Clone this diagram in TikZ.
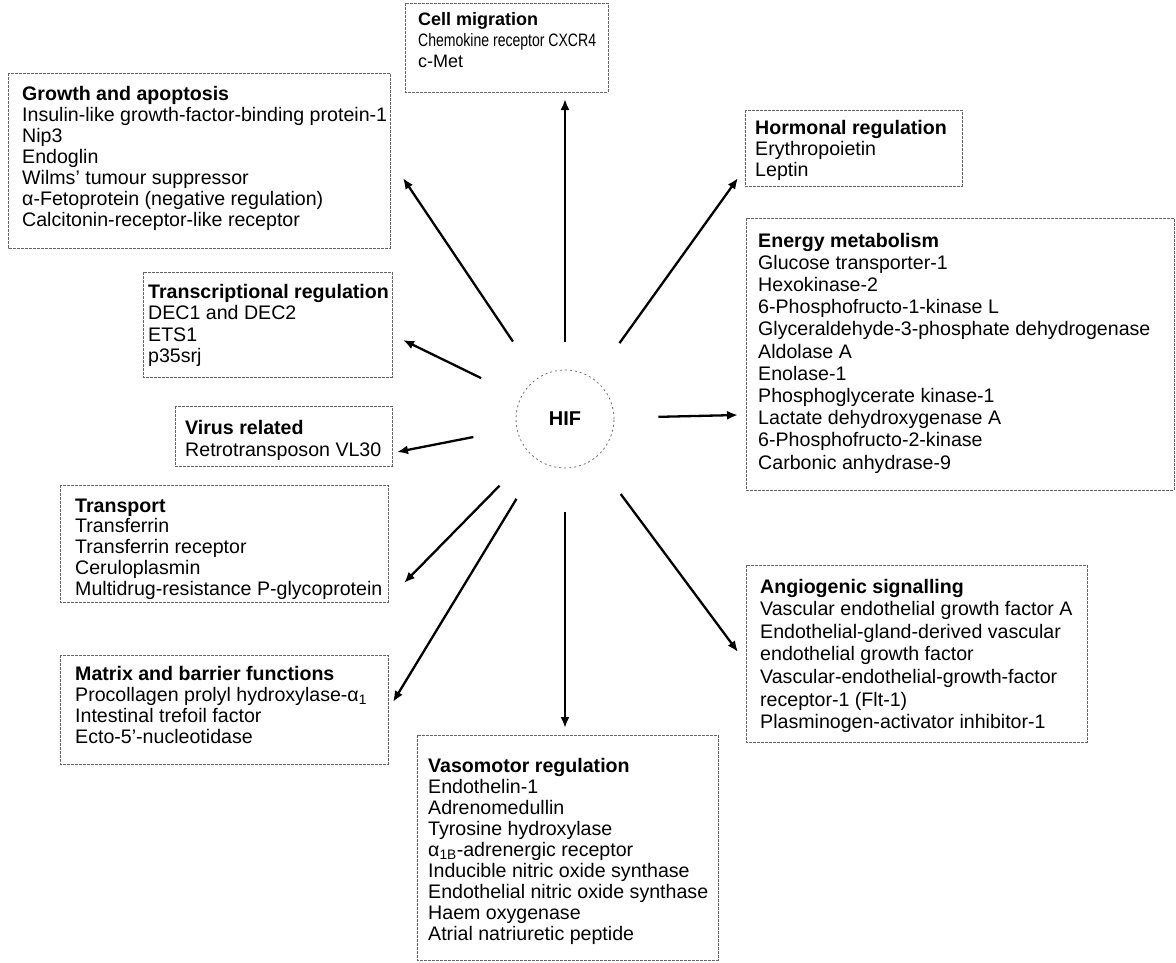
\documentclass[tikz,border=0pt]{standalone}
\usepackage{fontspec}
\setmainfont{Liberation Sans}
\usepackage{graphicx}
\usetikzlibrary{arrows.meta}
\tikzset{
  boxline/.style={draw=black!60, line width=0.7pt, dash pattern=on 3pt off 1pt},
  gtext/.style={anchor=base west, inner sep=0pt},
  arr/.style={-{Latex[length=11pt,width=9pt]}, line width=2.3pt, shorten <=44pt},
}
\newcommand{\fs}[1]{\fontsize{19.6}{#1}\selectfont}
\newcommand{\glines}[1]{\begin{tabular}[t]{@{}l@{}}#1\end{tabular}}
\begin{document}
\begin{tikzpicture}[x=1pt,y=-1pt]
\useasboundingbox[fill=white] (0,0) rectangle (1176,962);

% boxes
\draw[boxline] (8,73) rectangle (390,248);
\draw[boxline] (405,3) rectangle (608,92);
\draw[boxline] (745,110) rectangle (962,186);
\draw[boxline] (143,272) rectangle (392,377);
\draw[boxline] (175,406) rectangle (392,466);
\draw[boxline] (60,485) rectangle (388,602);
\draw[boxline] (60,655) rectangle (388,764);
\draw[boxline] (746,218) rectangle (1174,490);
\draw[boxline] (746,565) rectangle (1087,742);
\draw[boxline] (417,735) rectangle (718,960);

\node[gtext, font=\fs{21}] (growth) at (22,100)
 {\glines{\textbf{Growth and apoptosis}\\Insulin-like growth-factor-binding protein-1\\Nip3\\Endoglin\\Wilms' tumour suppressor\\α-Fetoprotein (negative regulation)\\Calcitonin-receptor-like receptor}};

\node[gtext, font=\fontsize{18}{21}\selectfont] (cellmig) at (418,25)
 {\glines{\textbf{Cell migration}\\\scalebox{0.78}[1]{Chemokine receptor CXCR4}\\c-Met}};

\node[gtext, font=\fs{21}] (hormonal) at (755,134)
 {\glines{\textbf{Hormonal regulation}\\Erythropoietin\\Leptin}};

\node[gtext, font=\fs{21.5}] (transcr) at (148,298)
 {\glines{\textbf{Transcriptional regulation}\\DEC1 and DEC2\\ETS1\\p35srj}};

\node[gtext, font=\fs{22}] (virus) at (185,434)
 {\glines{\textbf{Virus related}\\Retrotransposon VL30}};

\node[gtext, font=\fs{20.8}] (transport) at (75,512)
 {\glines{\textbf{Transport}\\Transferrin\\Transferrin receptor\\Ceruloplasmin\\Multidrug-resistance P-glycoprotein}};

\node[gtext, font=\fs{21.3}] (matrix) at (75,680)
 {\glines{\textbf{Matrix and barrier functions}\\Procollagen prolyl hydroxylase-α\textsubscript{1}\\Intestinal trefoil factor\\Ecto-5'-nucleotidase}};

\node[gtext, font=\fs{22.2}] (energy) at (758,247)
 {\glines{\textbf{Energy metabolism}\\Glucose transporter-1\\Hexokinase-2\\6-Phosphofructo-1-kinase L\\Glyceraldehyde-3-phosphate dehydrogenase\\Aldolase A\\Enolase-1\\Phosphoglycerate kinase-1\\Lactate dehydroxygenase A\\6-Phosphofructo-2-kinase\\Carbonic anhydrase-9}};

\node[gtext, font=\fs{22.6}] (angio) at (760,593)
 {\glines{\textbf{Angiogenic signalling}\\Vascular endothelial growth factor A\\Endothelial-gland-derived vascular\\endothelial growth factor\\Vascular-endothelial-growth-factor\\receptor-1 (Flt-1)\\Plasminogen-activator inhibitor-1}};

\node[gtext, font=\fs{21}] (vaso) at (428,772)
 {\glines{\textbf{Vasomotor regulation}\\Endothelin-1\\Adrenomedullin\\Tyrosine hydroxylase\\α\textsubscript{1B}-adrenergic receptor\\Inducible nitric oxide synthase\\Endothelial nitric oxide synthase\\Haem oxygenase\\Atrial natriuretic peptide}};

\node[circle, draw=black!55, dash pattern=on 2pt off 3pt, line width=0.8pt, minimum size=98pt, inner sep=0pt,
      font=\bfseries\fontsize{20}{24}\selectfont] (hif) at (565,419) {HIF};

\coordinate (tN) at (565,99);
\coordinate (tNE) at (738,178);
\coordinate (tE) at (738,415);
\coordinate (tSE) at (738,652);
\coordinate (tS) at (565,728);
\coordinate (tSW) at (393,702);
\coordinate (tTr) at (404,583);
\coordinate (tVi) at (397,452);
\coordinate (tTc) at (403,340);
\coordinate (tNW) at (403,178);

\draw[arr, shorten <=28pt] (hif) -- (tN);
\draw[arr] (hif) -- (tNE);
\draw[arr] (hif) -- (tE);
\draw[arr] (hif) -- (tSE);
\draw[arr] (hif) -- (tS);
\draw[arr] (hif) -- (tSW);
\draw[arr] (hif) -- (tTr);
\draw[arr] (hif) -- (tVi);
\draw[arr] (hif) -- (tTc);
\draw[arr] (hif) -- (tNW);
\end{tikzpicture}
\end{document}
